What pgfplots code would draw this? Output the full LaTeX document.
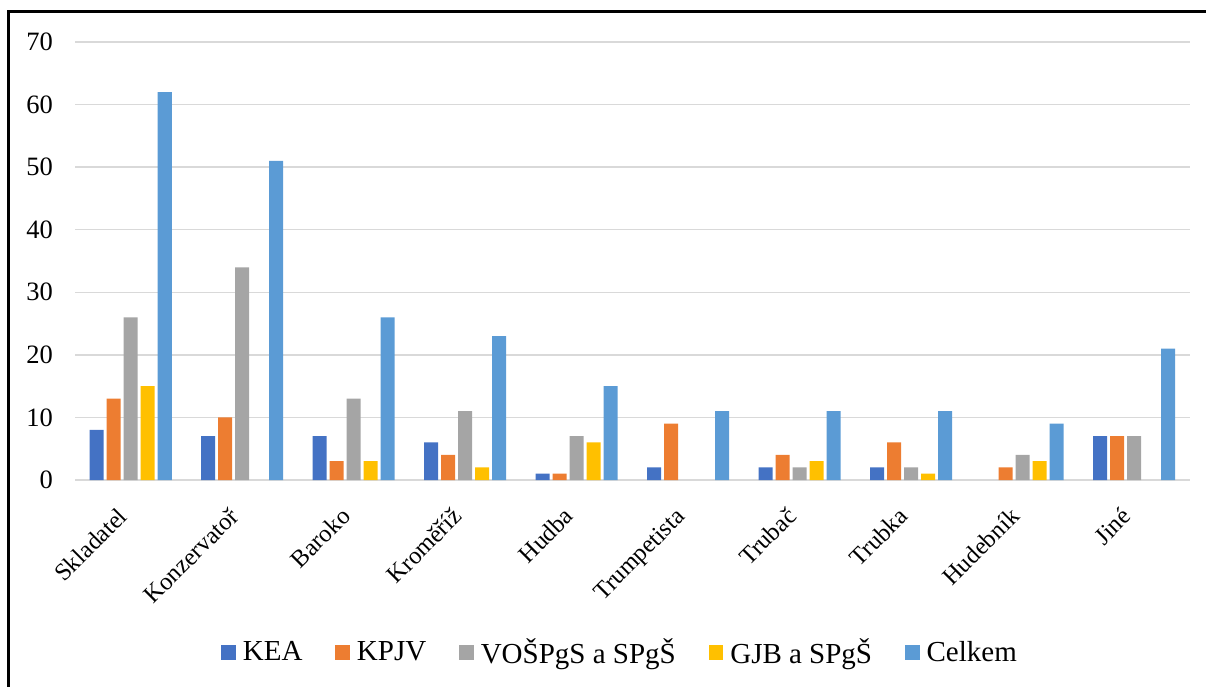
\documentclass[border=0pt]{standalone}
\usepackage{pgfplots}
\pgfplotsset{compat=1.18}
\usepackage{fontspec}
\setmainfont{Liberation Serif}

\definecolor{cKEA}{HTML}{4472C4}
\definecolor{cKPJV}{HTML}{ED7D31}
\definecolor{cVOS}{HTML}{A5A5A5}
\definecolor{cGJB}{HTML}{FFC000}
\definecolor{cCelk}{HTML}{5B9BD5}
\definecolor{gridc}{RGB}{217,217,217}

\begin{document}
\begin{tikzpicture}[x=1pt,y=1pt]
\useasboundingbox (0,0) rectangle (1206,686);
\draw[line width=3pt] (8,-10) -- (8,674) -- (1220,674);
\begin{axis}[
    at={(75pt,206pt)}, anchor=south west,
    scale only axis, width=1115pt, height=438pt,
    xmin=-0.5, xmax=9.5, ymin=0, ymax=70,
    ytick={0,10,...,70},
    xtick={0,...,9},
    xticklabels={Skladatel,Konzervatoř,Baroko,Kroměříž,Hudba,Trumpetista,Trubač,Trubka,Hudebník,Jiné},
    axis line style={draw=none},
    major tick length=0pt,
    ymajorgrids, grid style={draw=gridc, line width=1.5pt},
    /pgf/number format/assume math mode=true,
    yticklabel style={font=\fontsize{26.5}{30}\selectfont, anchor=east, inner sep=0pt, xshift=-22pt},
    xticklabel style={font=\fontsize{24.5}{29}\selectfont, inner sep=0pt, text height=0.7em, text depth=0.2em,
      xshift=-7pt, yshift=-33pt, rotate=45, anchor=north east},
    ybar=3pt, bar width=14pt,
    every axis plot/.append style={draw=none},
    legend columns=-1,
    legend style={at={(rel axis cs:0.488,-0.393)}, anchor=center, draw=none, fill=none,
      font=\fontsize{29}{33}\selectfont, inner sep=0pt, nodes={inner sep=0pt},
      /tikz/every odd column/.append style={column sep=7pt},
      /tikz/every even column/.append style={column sep=33pt}},
    legend image code/.code={\fill[#1] (0pt,-7.5pt) rectangle (14.5pt,7pt);},
  ]
  \addplot[fill=cKEA] coordinates {(0,8) (1,7) (2,7) (3,6) (4,1) (5,2) (6,2) (7,2) (9,7)};
  \addplot[fill=cKPJV] coordinates {(0,13) (1,10) (2,3) (3,4) (4,1) (5,9) (6,4) (7,6) (8,2) (9,7)};
  \addplot[fill=cVOS] coordinates {(0,26) (1,34) (2,13) (3,11) (4,7) (6,2) (7,2) (8,4) (9,7)};
  \addplot[fill=cGJB] coordinates {(0,15) (2,3) (3,2) (4,6) (6,3) (7,1) (8,3)};
  \addplot[fill=cCelk] coordinates {(0,62) (1,51) (2,26) (3,23) (4,15) (5,11) (6,11) (7,11) (8,9) (9,21)};
  \legend{KEA,KPJV,VOŠPgS a SPgŠ,GJB a SPgŠ,Celkem}
\end{axis}
\end{tikzpicture}
\end{document}
